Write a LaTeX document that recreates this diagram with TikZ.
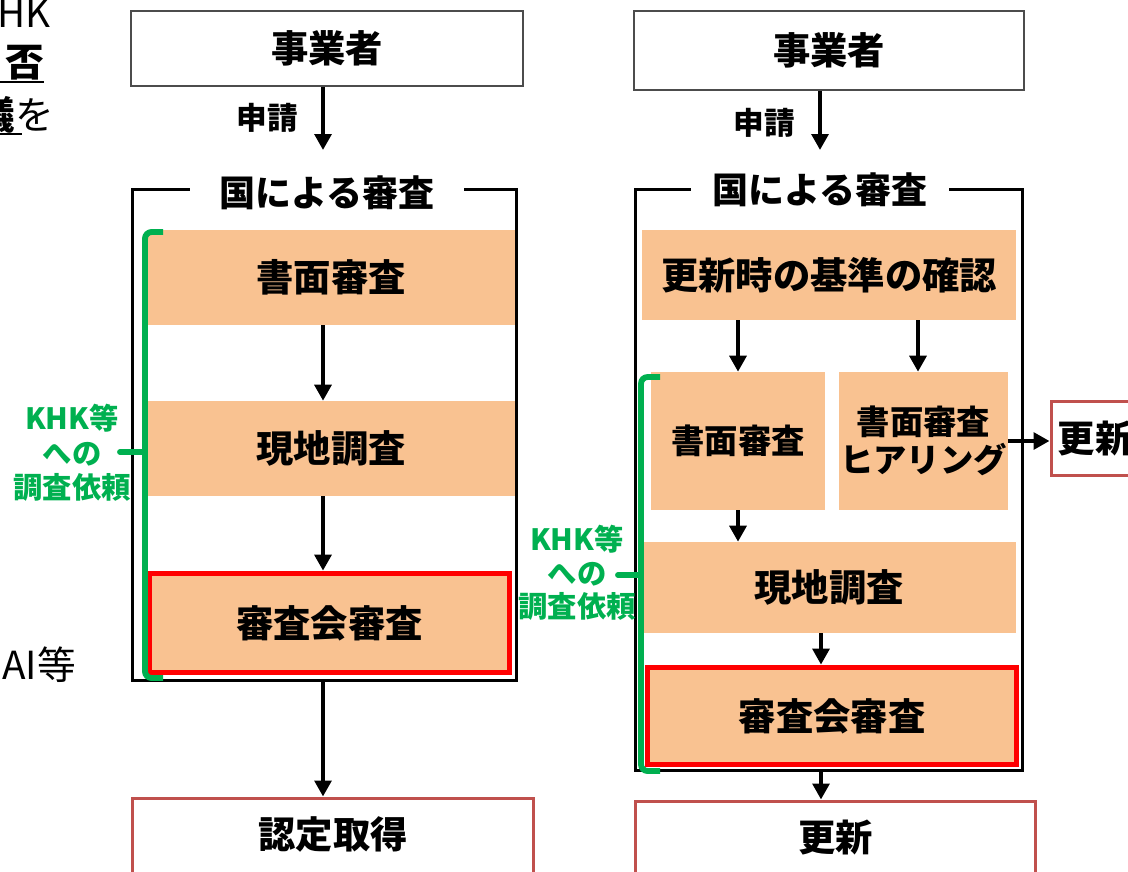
\documentclass[tikz,border=0pt]{standalone}
\usepackage{fontspec}
\setmainfont{Noto Sans CJK JP}
\usetikzlibrary{arrows.meta}
\definecolor{peach}{RGB}{249,194,145}
\definecolor{kgreen}{RGB}{0,176,80}
\definecolor{dred}{RGB}{192,80,77}
\definecolor{bred}{RGB}{255,0,0}
\begin{document}
\begin{tikzpicture}[x=0.75pt,y=-0.75pt,
  every node/.style={font=\bfseries\fontsize{28}{32}\selectfont, inner sep=0pt},
  topbox/.style={draw=black!70, line width=1.2pt, fill=white},
  frame/.style={draw=black, line width=2.6pt},
  title/.style={fill=white, inner ysep=3pt, font=\bfseries\fontsize{27}{30}\selectfont},
  stepbox/.style={fill=peach},
  redbox/.style={fill=peach, draw=bred, line width=4.3pt},
  endbox/.style={draw=dred, line width=2.4pt, fill=white},
  arr/.style={line width=3.1pt, -{Triangle[length=12pt,width=12.5pt]}},
  brk/.style={draw=kgreen, line width=4.4pt, rounded corners=5pt},
  tick/.style={draw=kgreen, line width=4.4pt, line cap=round},
  gtext/.style={text=kgreen, align=center},
  lbl/.style={font=\bfseries\fontsize{23}{26}\selectfont},
  cut/.style={font=\fontsize{29}{32}\selectfont, anchor=base east}
]
\useasboundingbox (0,0) rectangle (1128,871);

% cut-off text at the left edge
\node[cut] (c1) at (51,27) {KHK};
\node[cut] (c2) at (44,76) {\bfseries 否};
\draw[line width=1.5pt] (-5,82) -- (44,82);
\node[cut] (c3) at (54,129) {{\bfseries 議}を};
\draw[line width=1.5pt] (-5,134) -- (22,134);
\node[cut] (c4) at (76,679) {AI等};

% ===== left column =====
\node[topbox, minimum width=294pt, minimum height=56.25pt] (jL) at (327,48.5) {事業者};
\node[lbl] (pL) at (267,118) {申請};
\coordinate (aL) at (323,150);
\node[frame, minimum width=288pt, minimum height=368.25pt] (fL) at (324.5,435) {};
\node[title, inner xsep=22pt] (tL) at (327,193) {国による審査};
\node[stepbox, minimum width=276pt, minimum height=71.25pt] (sL1) at (331,277.5) {書面審査};
\node[stepbox, minimum width=276pt, minimum height=71.25pt] (sL2) at (331,448.5) {現地調査};
\node[redbox, minimum width=270pt, minimum height=74.25pt] (sL3) at (329.5,623) {審査会審査};
\node[endbox, anchor=north, minimum width=300.75pt, text height=37.5pt, text depth=60pt] (nL) at (333,796.5) {認定取得};

\draw[arr] (jL.south -| aL) -- (aL);
\draw[arr] (sL1.south -| aL) -- (sL2.north -| aL);
\draw[arr] (sL2.south -| aL) -- (sL3.north -| aL);
\draw[arr] (fL.south -| aL) -- (nL.north -| aL);

\node[gtext, font=\bfseries\fontsize{22}{26}\selectfont] (gL) at (72,453) {KHK等\\への\\調査依頼};
\draw[brk] (163,232) -- (145,232) -- (145,678) -- (163,678);
\draw[tick] (145,452) -- (120,452);

% ===== right column =====
\node[topbox, minimum width=292.5pt, minimum height=59.25pt] (jR) at (829,50.5) {事業者};
\node[lbl] (pR) at (764,123) {申請};
\coordinate (aR) at (820,150);
\coordinate (xR) at (821,0);
\coordinate (xR2) at (918,0);
\node[frame, minimum width=290.25pt, minimum height=435.75pt] (fR) at (829,480) {};
\node[title, inner xsep=16pt] (tR) at (820,190) {国による審査};
\node[stepbox, minimum width=280.5pt, minimum height=67.5pt] (sR0) at (829,275) {更新時の基準の確認};
\node[stepbox, minimum width=130.5pt, minimum height=103.5pt, font=\bfseries\fontsize{25}{28.5}\selectfont] (sR1) at (738,441) {書面審査};
\node[stepbox, minimum width=126.75pt, minimum height=103.5pt, align=center, font=\bfseries\fontsize{25}{28.5}\selectfont] (sR2) at (923.5,441) {書面審査\\ヒアリング};
\node[endbox, anchor=west, minimum height=55.5pt, text width=100pt, align=left, inner xsep=5pt] (rR) at (1049.5,438.5) {更新};
\node[stepbox, minimum width=280.5pt, minimum height=68.25pt] (sR3) at (829,587.5) {現地調査};
\node[redbox, minimum width=276.75pt, minimum height=72.75pt] (sR4) at (832,716) {審査会審査};
\node[endbox, anchor=north, minimum width=300pt, text height=37.9pt, text depth=60pt] (nR) at (835.5,799.5) {更新};

\draw[arr] (jR.south -| aR) -- (aR);
\draw[arr] (sR0.south -| sR1) -- (sR1.north);
\draw[arr] (sR0.south -| xR2) -- (sR2.north -| xR2);
\draw[arr] (sR2.east) -- (rR.west |- sR2.east);
\draw[arr] (sR1.south) -- (sR3.north -| sR1.south);
\draw[arr] (sR3.south -| xR) -- (sR4.north -| xR);
\draw[arr] (fR.south -| xR) -- (nR.north -| xR);

\node[gtext, font=\bfseries\fontsize{22}{25}\selectfont] (gR) at (577,573) {KHK等\\への\\調査依頼};
\draw[brk] (660,377) -- (641,377) -- (641,771) -- (660,771);
\draw[tick] (641,575) -- (618,575);
\end{tikzpicture}
\end{document}
